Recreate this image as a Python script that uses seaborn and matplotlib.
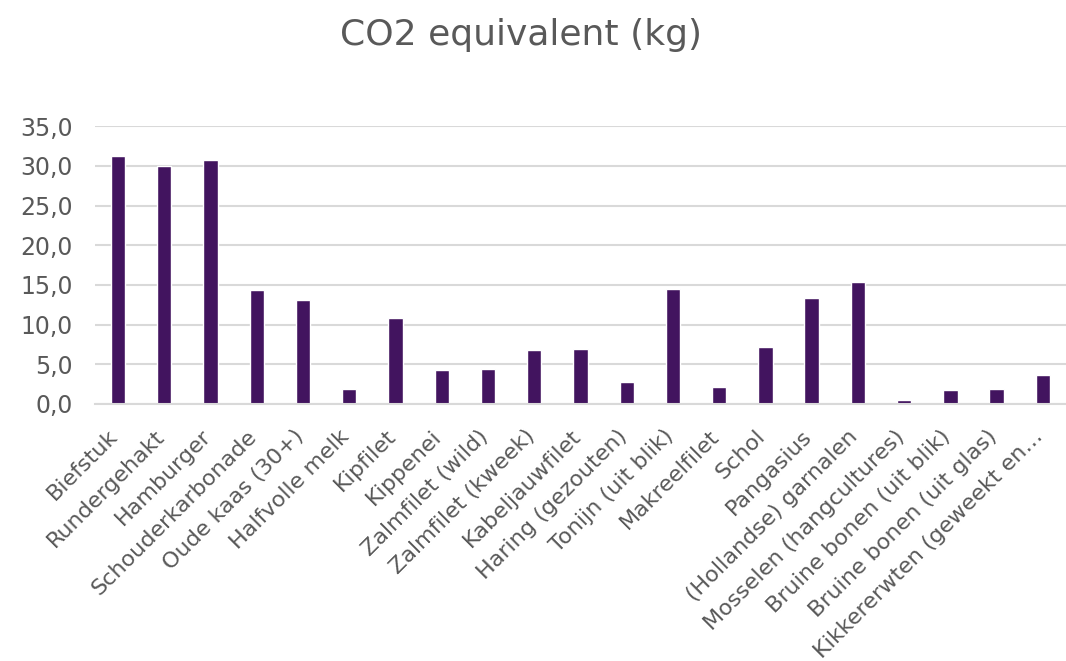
import matplotlib
matplotlib.use("Agg")
import matplotlib.pyplot as plt
import matplotlib.transforms as mtransforms
import seaborn as sns
import pandas as pd
from matplotlib.ticker import FuncFormatter, MultipleLocator

categories = ["Biefstuk", "Rundergehakt", "Hamburger", "Schouderkarbonade",
              "Oude kaas (30+)", "Halfvolle melk", "Kipfilet", "Kippenei",
              "Zalmfilet (wild)", "Zalmfilet (kweek)", "Kabeljauwfilet",
              "Haring (gezouten)", "Tonijn (uit blik)", "Makreelfilet", "Schol",
              "Pangasius", "(Hollandse) garnalen", "Mosselen (hangcultures)",
              "Bruine bonen (uit blik)", "Bruine bonen (uit glas)",
              "Kikkererwten (geweekt en\u2026"]
co2_values = [31.2, 30.0, 30.7, 14.4, 13.1, 1.9, 10.8, 4.3, 4.45, 6.8, 6.9,
              2.8, 14.5, 2.1, 7.2, 13.3, 15.4, 0.5, 1.8, 1.9, 3.7]

df = pd.DataFrame({"cat": categories, "val": co2_values})

sns.set_theme(style="white")
plt.rcParams['font.family'] = ['DejaVu Sans']

fig = plt.figure(figsize=(10.66, 6.61), dpi=100)
ax = fig.add_axes([0.089, 0.389, 0.911, 0.42])

sns.barplot(data=df, x="cat", y="val", color="#42145F", width=0.31,
            saturation=1, ax=ax)

ax.set_xlim(-0.5, len(categories) - 0.5)
ax.set_ylim(0, 35)
ax.yaxis.set_major_locator(MultipleLocator(5))
ax.yaxis.set_major_formatter(FuncFormatter(lambda v, p: f"{v:.1f}".replace(".", ",")))
ax.grid(axis="y", color="#D9D9D9", linewidth=1.5)
ax.set_axisbelow(True)
for s in ["top", "right", "left"]:
    ax.spines[s].set_visible(False)
ax.spines["bottom"].set_color("#D9D9D9")
ax.spines["bottom"].set_linewidth(1.5)
ax.set_xlabel("")
ax.set_ylabel("")
ax.tick_params(axis="y", length=0, colors="#595959", labelsize=17, pad=16)
ax.tick_params(axis="x", length=0, colors="#595959", labelsize=16, pad=21)
offset = mtransforms.ScaledTranslation(-3 / 100, 0, fig.dpi_scale_trans)
for lbl in ax.get_xticklabels():
    lbl.set_rotation(45)
    lbl.set_ha("right")
    lbl.set_va("center")
    lbl.set_rotation_mode("anchor")
    lbl.set_transform(lbl.get_transform() + offset)

fig.text(0.489, 0.947, "CO2 equivalent (kg)", ha="center", va="center",
         fontsize=26, color="#595959")

fig.savefig("out.png", dpi=100, facecolor="white")
